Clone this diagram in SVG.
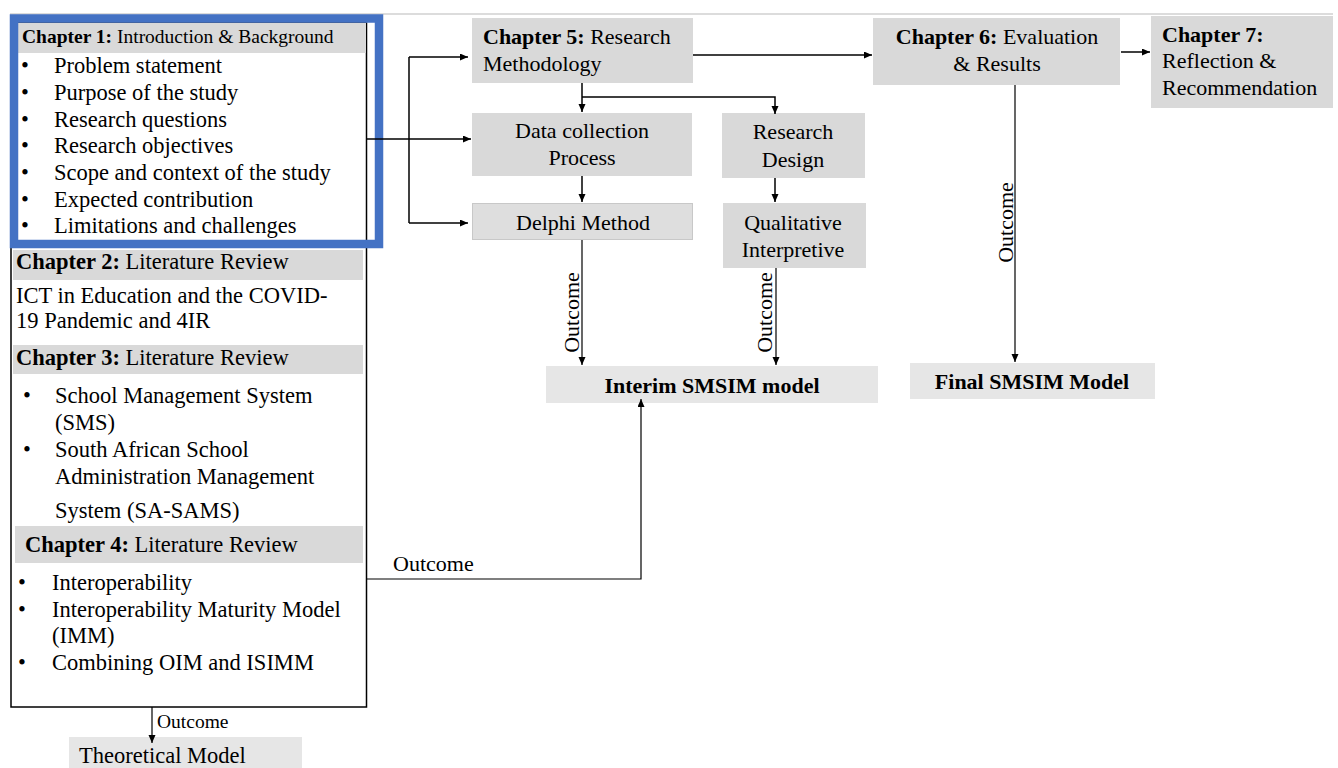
<svg xmlns="http://www.w3.org/2000/svg" width="1338" height="768" viewBox="0 0 1338 768">
  <defs>
    <marker id="arrow" markerUnits="userSpaceOnUse" markerWidth="9" markerHeight="8" refX="8" refY="3.5" orient="auto">
      <path d="M0,0 L8,3.5 L0,7 z" fill="#000"/>
    </marker>
    <style>
      text { font-family: "Liberation Serif", "Times New Roman", serif; fill: #000; }
      .t { font-size: 22px; }
      .tl { font-size: 22.5px; }
      .sm { font-size: 19.5px; }
      .b { font-weight: bold; }
      .mid { text-anchor: middle; }
      .box { fill: #d9d9d9; }
      .lite { fill: #e6e6e6; }
      .hdr { fill: #d9d9d9; }
      .edge { fill: none; stroke: #000; stroke-width: 1.5; }
      .edge-thin { fill: none; stroke: #000; stroke-width: 1.2; }
    </style>
  </defs>

  <rect width="1338" height="768" fill="#fff"/>
  <!-- page rule along the top -->
  <line x1="10" y1="14" x2="1333" y2="14" stroke="#dcdcdc" stroke-width="2"/>

  <!-- left column: chapters 1 to 4 -->
  <g id="literature-panel">
    <rect x="11" y="23" width="355.5" height="684" fill="#fff" stroke="#000" stroke-width="1.5"/>
    <rect class="hdr" x="13" y="250" width="350" height="30"/>
    <text class="tl" x="16" y="269"><tspan class="b">Chapter 2:</tspan> Literature Review</text>
    <text class="tl" x="16" y="303">ICT in Education and the COVID-</text>
    <text class="tl" x="16" y="328">19 Pandemic and 4IR</text>

    <rect class="hdr" x="13" y="345" width="350" height="29"/>
    <text class="tl" x="16" y="365"><tspan class="b">Chapter 3:</tspan> Literature Review</text>
    <text class="tl" x="23" y="403">•</text><text class="tl" x="55" y="403">School Management System</text>
    <text class="tl" x="55" y="430">(SMS)</text>
    <text class="tl" x="23" y="457">•</text><text class="tl" x="55" y="457">South African School</text>
    <text class="tl" x="55" y="484">Administration Management</text>
    <text class="tl" x="55" y="518">System (SA-SAMS)</text>

    <rect class="hdr" x="15" y="526" width="348" height="37"/>
    <text class="tl" x="25" y="552"><tspan class="b">Chapter 4:</tspan> Literature Review</text>
    <text class="tl" x="18" y="590">•</text><text class="tl" x="52" y="590">Interoperability</text>
    <text class="tl" x="18" y="617">•</text><text class="tl" x="52" y="617">Interoperability Maturity Model</text>
    <text class="tl" x="52" y="643">(IMM)</text>
    <text class="tl" x="18" y="670">•</text><text class="tl" x="52" y="670">Combining OIM and ISIMM</text>
  </g>

  <g id="chapter-1">
    <rect class="hdr" x="18" y="23" width="348" height="30"/>
    <text class="sm" x="22" y="43"><tspan class="b">Chapter 1:</tspan> Introduction &amp; Background</text>
    <text class="tl" x="21" y="73">•</text><text class="tl" x="54" y="73">Problem statement</text>
    <text class="tl" x="21" y="100">•</text><text class="tl" x="54" y="100">Purpose of the study</text>
    <text class="tl" x="21" y="127">•</text><text class="tl" x="54" y="127">Research questions</text>
    <text class="tl" x="21" y="153">•</text><text class="tl" x="54" y="153">Research objectives</text>
    <text class="tl" x="21" y="180">•</text><text class="tl" x="54" y="180">Scope and context of the study</text>
    <text class="tl" x="21" y="207">•</text><text class="tl" x="54" y="207">Expected contribution</text>
    <text class="tl" x="21" y="233">•</text><text class="tl" x="54" y="233">Limitations and challenges</text>
    <rect x="14" y="18.5" width="365" height="225.5" fill="none" stroke="#4472c4" stroke-width="8.5"/>
  </g>

  <g id="theoretical-model">
    <rect class="lite" x="69" y="737" width="233" height="31"/>
    <text class="tl" x="79" y="763">Theoretical Model</text>
  </g>

  <g id="chapter-5">
    <rect class="box" x="472" y="18" width="221" height="65"/>
    <text class="t" x="483" y="44"><tspan class="b">Chapter 5:</tspan> Research</text>
    <text class="t" x="483" y="71">Methodology</text>
  </g>

  <g id="data-collection">
    <rect class="box" x="472" y="113" width="220" height="63"/>
    <text class="t mid" x="582" y="138">Data collection</text>
    <text class="t mid" x="582" y="165">Process</text>
  </g>

  <g id="delphi-method">
    <rect x="472.5" y="203.5" width="220" height="36" fill="#dedede" stroke="#c8c8c8" stroke-width="1"/>
    <text class="t mid" x="583" y="230">Delphi Method</text>
  </g>

  <g id="research-design">
    <rect class="box" x="722" y="113" width="143" height="65"/>
    <text class="t mid" x="793" y="139">Research</text>
    <text class="t mid" x="793" y="167">Design</text>
  </g>

  <g id="qualitative-interpretive">
    <rect class="box" x="723" y="203" width="143" height="65"/>
    <text class="t mid" x="793" y="230">Qualitative</text>
    <text class="t mid" x="793" y="257">Interpretive</text>
  </g>

  <g id="interim-model">
    <rect class="lite" x="546" y="366" width="332" height="37"/>
    <text class="t b mid" x="712" y="393">Interim SMSIM model</text>
  </g>

  <g id="chapter-6">
    <rect class="box" x="873" y="18" width="247" height="67"/>
    <text class="t mid" x="997" y="44"><tspan class="b">Chapter 6:</tspan> Evaluation</text>
    <text class="t mid" x="997" y="71">&amp; Results</text>
  </g>

  <g id="chapter-7">
    <rect class="box" x="1151" y="16" width="182" height="92"/>
    <text class="t b" x="1162" y="42">Chapter 7:</text>
    <text class="t" x="1162" y="68">Reflection &amp;</text>
    <text class="t" x="1162" y="95">Recommendation</text>
  </g>

  <g id="final-model">
    <rect class="lite" x="910" y="363" width="245" height="36"/>
    <text class="t b mid" x="1032" y="389">Final SMSIM Model</text>
  </g>

  <g id="connectors">
    <!-- chapter 1 fan-out into the methodology column -->
    <path class="edge" d="M366,139 H471" marker-end="url(#arrow)"/>
    <path class="edge" d="M409,57 V223"/>
    <path class="edge" d="M409,57 H468" marker-end="url(#arrow)"/>
    <path class="edge" d="M409,223 H468" marker-end="url(#arrow)"/>

    <!-- methodology breakdown -->
    <path class="edge" d="M582,83 V112" marker-end="url(#arrow)"/>
    <path class="edge" d="M582,97 H775 V114" marker-end="url(#arrow)"/>
    <path class="edge" d="M582,176 V202" marker-end="url(#arrow)"/>
    <path class="edge" d="M775,178 V202" marker-end="url(#arrow)"/>

    <!-- chapter sequence along the top -->
    <path class="edge" d="M693,55 H872" marker-end="url(#arrow)"/>
    <path class="edge" d="M1121,52 H1150" marker-end="url(#arrow)"/>

    <!-- outcomes -->
    <path class="edge-thin" d="M582,240 V365" marker-end="url(#arrow)"/>
    <text class="t mid" transform="translate(578.5,312.5) rotate(-90)">Outcome</text>
    <path class="edge-thin" d="M776,268 V365" marker-end="url(#arrow)"/>
    <text class="t mid" transform="translate(772,312.5) rotate(-90)">Outcome</text>
    <path class="edge-thin" d="M1015,85 V362" marker-end="url(#arrow)"/>
    <text class="t mid" transform="translate(1013,222.5) rotate(-90)">Outcome</text>

    <path class="edge-thin" d="M366,579 H641 V399" marker-end="url(#arrow)"/>
    <text class="t" x="393" y="571">Outcome</text>

    <path class="edge-thin" d="M152,707 V743" marker-end="url(#arrow)"/>
    <text class="sm" x="157" y="728">Outcome</text>
  </g>
</svg>
